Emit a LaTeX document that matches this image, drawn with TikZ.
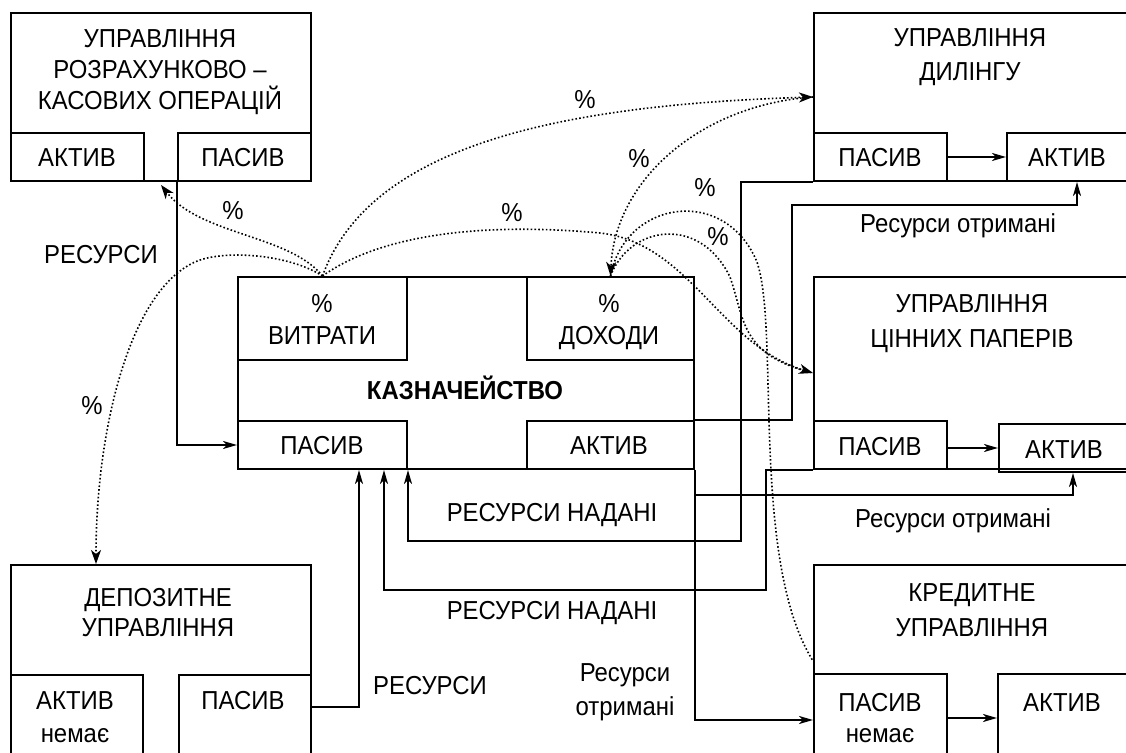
\documentclass[tikz,border=0pt]{standalone}
\usepackage{fontspec}
\setmainfont{Liberation Sans}[FakeStretch=0.92]
\usetikzlibrary{arrows.meta,calc}
\begin{document}
\begin{tikzpicture}[x=0.5pt,y=-0.5pt,
  box/.style={draw, line width=1pt, inner sep=0pt, anchor=north west},
  sz/.style 2 args={minimum width={(#1)*0.5pt}, minimum height={(#2)*0.5pt}},
  txt/.style={inner sep=0pt, font=\fontsize{13}{15}\selectfont, text height=9.3pt, text depth=0pt},
  btxt/.style={txt, font=\fontsize{13}{15}\selectfont\bfseries},
  conn/.style={line width=1pt, -{Stealth[length=7pt,width=4pt,inset=2pt]}},
  pct/.style={line width=0.8pt, dash pattern=on 0.8pt off 1.1pt, -{Stealth[length=7pt,width=5pt,inset=2pt]}},
  pctn/.style={line width=0.8pt, dash pattern=on 0.8pt off 1.1pt}
]
\useasboundingbox (0,0) rectangle (1126,753);
\clip (0,0) rectangle (1126,753);
\fill[white] (0,0) rectangle (1126,753);

% top-left box
\node[box, sz={300}{168}] (A) at (10,12) {};
\node[box, sz={133}{48}] (Aakt) at (10,132) {};
\node[box, sz={133}{48}] (Apas) at (177,132) {};
\node[txt] (tA1) at (160,38) {УПРАВЛІННЯ};
\node[txt] (tA2) at (160,69) {РОЗРАХУНКОВО –};
\node[txt] (tA3) at (160,100) {КАСОВИХ ОПЕРАЦІЙ};
\node[txt] (tA4) at (77,157) {АКТИВ};
\node[txt] (tA5) at (243,157) {ПАСИВ};

% dealing box
\node[box, sz={317}{168}] (D) at (813,12) {};
\node[box, sz={133}{48}] (Dpas) at (813,132) {};
\node[box, sz={124}{48}] (Dakt) at (1006,132) {};
\node[txt] (tD1) at (970,37) {УПРАВЛІННЯ};
\node[txt] (tD2) at (970,71) {ДИЛІНГУ};
\node[txt] (tD3) at (880,157) {ПАСИВ};
\node[txt] (tD4) at (1067,157) {АКТИВ};

% treasury
\node[box, sz={456}{192}] (T) at (237,276) {};
\node[box, sz={169}{83}] (Tvyt) at (237,276) {};
\node[box, sz={167}{83}] (Tdoh) at (526,276) {};
\node[box, sz={169}{48}] (Tpas) at (237,420) {};
\node[box, sz={167}{48}] (Takt) at (526,420) {};
\node[txt] (tT1) at (322,303) {\%};
\node[txt] (tT2) at (322,335) {ВИТРАТИ};
\node[txt] (tT3) at (609,303) {\%};
\node[txt] (tT4) at (609,335) {ДОХОДИ};
\node[btxt] (tT5) at (465,390) {КАЗНАЧЕЙСТВО};
\node[txt] (tT6) at (322,445) {ПАСИВ};
\node[txt] (tT7) at (609,445) {АКТИВ};

% securities
\node[box, sz={317}{192}] (P) at (813,276) {};
\node[box, sz={133}{48}] (Ppas) at (813,420) {};
\node[box, sz={132}{48}] (Pakt) at (998,423) {};
\node[txt] (tP1) at (972,303) {УПРАВЛІННЯ};
\node[txt] (tP2) at (972,338) {ЦІННИХ ПАПЕРІВ};
\node[txt] (tP3) at (880,446) {ПАСИВ};
\node[txt] (tP4) at (1064,449) {АКТИВ};

% credit
\node[box, sz={317}{200}] (K) at (813,564) {};
\node[box, sz={133}{90}] (Kpas) at (813,673) {};
\node[box, sz={133}{90}] (Kakt) at (997,673) {};
\node[txt] (tK1) at (972,592) {КРЕДИТНЕ};
\node[txt] (tK2) at (972,627) {УПРАВЛІННЯ};
\node[txt] (tK3) at (880,702) {ПАСИВ};
\node[txt] (tK4) at (880,733) {немає};
\node[txt] (tK5) at (1062,702) {АКТИВ};

% deposit
\node[box, sz={300}{200}] (Dep) at (10,564) {};
\node[box, sz={132}{90}] (Depakt) at (10,674) {};
\node[box, sz={132}{90}] (Deppas) at (178,674) {};
\node[txt] (tE1) at (158,597) {ДЕПОЗИТНЕ};
\node[txt] (tE2) at (158,627) {УПРАВЛІННЯ};
\node[txt] (tE3) at (75,700) {АКТИВ};
\node[txt] (tE4) at (75,733) {немає};
\node[txt] (tE5) at (243,700) {ПАСИВ};

% labels
\node[txt] (l1) at (101,254) {РЕСУРСИ};
\node[txt] (l2) at (430,685) {РЕСУРСИ};
\node[txt] (l3) at (552,512) {РЕСУРСИ НАДАНІ};
\node[txt] (l4) at (552,610) {РЕСУРСИ НАДАНІ};
\node[txt] (l5) at (958,223) {Ресурси отримані};
\node[txt] (l6) at (953,518) {Ресурси отримані};
\node[txt] (l7) at (625,672) {Ресурси};
\node[txt] (l8) at (625,706) {отримані};
\node[txt] (p1) at (233,210) {\%};
\node[txt] (p2) at (585,99) {\%};
\node[txt] (p3) at (512,212) {\%};
\node[txt] (p4) at (92,405) {\%};
\node[txt] (p5) at (639,158) {\%};
\node[txt] (p6) at (705,187) {\%};
\node[txt] (p7) at (718,236) {\%};

% solid connectors
\draw[conn] (Apas.south west) |- (Tpas.west);
\draw[conn] ($(Deppas.north east)+(0,33)$) -| ($(Tpas.south east)+(-49,0)$);
\draw[conn] (P.south west) -- ++(-47,0) |- ($(Tpas.south east)+(-24,120)$) -- ($(Tpas.south east)+(-24,0)$);
\draw[conn] (D.south west) -- ++(-72,0) |- ($(Tpas.south east)+(0,71)$) -- (Tpas.south east);
\draw[conn] (Takt.north east) -- ++(97,0) |- ($(Dakt.south west)+(71,23)$) -- ($(Dakt.south west)+(71,0)$);
\draw[conn] (Takt.south east) -- ++(0,25) -| ($(Pakt.south west)+(75,0)$);
\draw[conn] (Takt.south east) |- ($(Kpas.north west)+(0,47)$);
\draw[conn] (Dpas.east) -- (Dakt.west);
\draw[conn] (Pakt.west -| Ppas.east) -- (Pakt.west);
\draw[conn] ($(Kpas.north east)+(0,45)$) -- ($(Kakt.north west)+(0,45)$);

% dotted percentage flows
\draw[pct] (Tvyt.north) .. controls (290,235) and (200,235) .. ($(A.south)+(0,3)$);
\draw[pct] (Tvyt.north) .. controls (370,145) and (560,105) .. (D.west);
\draw[pct] (D.west) .. controls (700,105) and (615,180) .. (Tdoh.north);
\draw[pct] (Tvyt.north) .. controls (380,235) and (480,222) .. (600,233) .. controls (690,243) and (720,345) .. (P.west);
\draw[pct] (Tvyt.north) .. controls (290,255) and (230,250) .. (200,260) .. controls (130,285) and (96,430) .. ($(Dep.north west)+(86,0)$);
\draw[pctn] (Tdoh.north) .. controls (625,200) and (725,185) .. (757,262) .. controls (780,330) and (750,560) .. ($(K.north west)+(0,97)$);
\draw[pctn] (Tdoh.north) .. controls (630,225) and (700,215) .. (730,277) .. controls (745,320) and (740,355) .. (P.west);
\end{tikzpicture}
\end{document}
